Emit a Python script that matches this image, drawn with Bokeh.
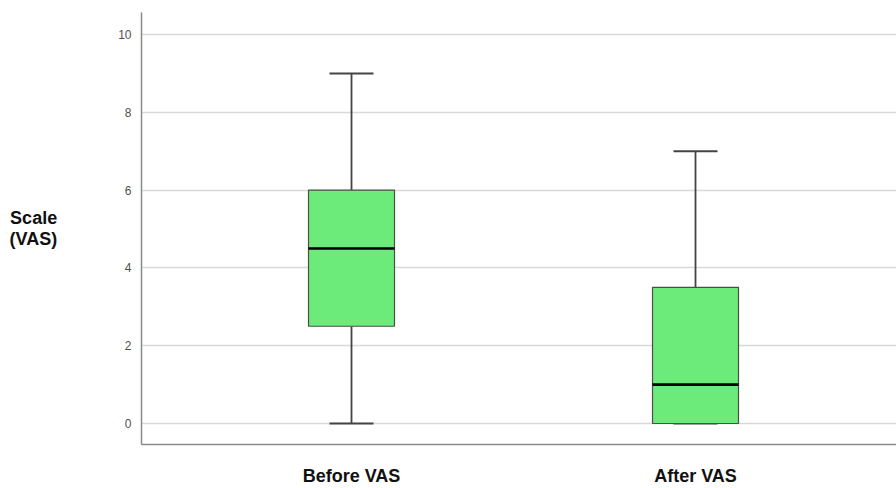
import numpy as np
from bokeh.plotting import figure
from bokeh.models import Range1d, FixedTicker
from bokeh.embed import file_html
from bokeh.resources import INLINE

# ---- data ----
categories = ["Before VAS", "After VAS"]
whisker_low = [0.0, 0.0]
q1 = [2.5, 0.0]
median = [4.5, 1.0]
q3 = [6.0, 3.5]
whisker_high = [9.0, 7.0]
y_ticks = [0, 2, 4, 6, 8, 10]

xpos = np.arange(len(categories)) + 1.0
box_w = 0.25
cap_w = 0.128

FONT = "Liberation Sans"

p = figure(width=896, height=488, output_backend="svg", toolbar_location=None,
           x_range=Range1d(0.3895, 2.5843), y_range=Range1d(-0.54, 10.566),
           min_border_left=141, min_border_right=0, min_border_top=12,
           min_border_bottom=44)
p.outline_line_color = None
p.background_fill_color = "white"
p.border_fill_color = "white"

# grid
p.xgrid.grid_line_color = None
p.ygrid.ticker = FixedTicker(ticks=y_ticks)
p.ygrid.grid_line_color = "#d9d9d9"
p.ygrid.grid_line_width = 1.6

# y axis
p.yaxis.ticker = FixedTicker(ticks=y_ticks)
p.yaxis.major_tick_line_color = None
p.yaxis.minor_tick_line_color = None
p.yaxis.axis_line_color = "#8a8a8a"
p.yaxis.axis_line_width = 1.5
p.yaxis.major_label_text_font = FONT
p.yaxis.major_label_text_font_size = "12px"
p.yaxis.major_label_text_color = "#505050"
p.yaxis.major_label_standoff = 4
p.yaxis.axis_label = "Scale\n(VAS)"
p.yaxis.axis_label_orientation = "horizontal"
p.yaxis.axis_label_text_font = FONT
p.yaxis.axis_label_text_font_size = "18px"
p.yaxis.axis_label_text_font_style = "bold"
p.yaxis.axis_label_text_color = "#111111"
p.yaxis.axis_label_text_line_height = 1.05
p.yaxis.axis_label_standoff = 58

# x axis
p.xaxis.ticker = FixedTicker(ticks=list(xpos))
p.xaxis.major_label_overrides = {float(x): c for x, c in zip(xpos, categories)}
p.xaxis.major_tick_line_color = None
p.xaxis.minor_tick_line_color = None
p.xaxis.axis_line_color = "#8a8a8a"
p.xaxis.axis_line_width = 1.5
p.xaxis.major_label_text_font = FONT
p.xaxis.major_label_text_font_size = "18px"
p.xaxis.major_label_text_font_style = "bold"
p.xaxis.major_label_text_color = "#111111"
p.xaxis.major_label_standoff = 15

# whiskers
p.segment(x0=xpos, y0=whisker_low, x1=xpos, y1=q1, line_color="#444444", line_width=1.8)
p.segment(x0=xpos, y0=q3, x1=xpos, y1=whisker_high, line_color="#444444", line_width=1.8)
p.segment(x0=xpos - cap_w / 2, y0=whisker_low, x1=xpos + cap_w / 2, y1=whisker_low,
          line_color="#444444", line_width=2)
p.segment(x0=xpos - cap_w / 2, y0=whisker_high, x1=xpos + cap_w / 2, y1=whisker_high,
          line_color="#444444", line_width=2)

# boxes
p.vbar(x=xpos, width=box_w, bottom=q1, top=q3, fill_color="#6deb7a",
       line_color="#4d4d4d", line_width=1.2)
# medians
p.segment(x0=xpos - box_w / 2, y0=median, x1=xpos + box_w / 2, y1=median,
          line_color="#000000", line_width=2.6)

open("out.html", "w").write(file_html(p, INLINE))
